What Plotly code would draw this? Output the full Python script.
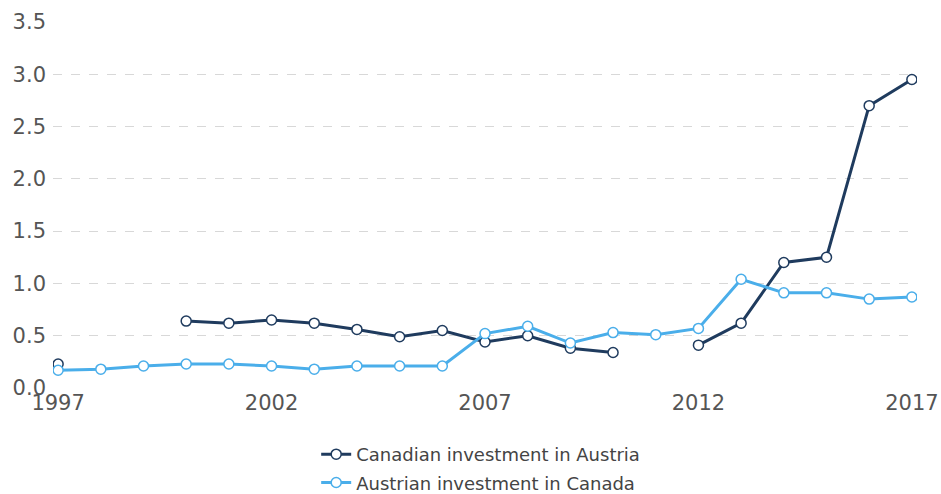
import plotly.graph_objects as go

years = list(range(1997, 2018))
canadian_in_austria = [0.23, None, None, 0.64, 0.62, 0.65, 0.62, 0.56, 0.49, 0.55,
                       0.44, 0.50, 0.38, 0.34, None, 0.41, 0.62, 1.20, 1.25, 2.70, 2.95]
austrian_in_canada = [0.17, 0.18, 0.21, 0.23, 0.23, 0.21, 0.18, 0.21, 0.21, 0.21,
                      0.52, 0.59, 0.43, 0.53, 0.51, 0.57, 1.04, 0.91, 0.91, 0.85, 0.87]
x_ticks = [1997, 2002, 2007, 2012, 2017]
y_ticks = [0, 0.5, 1.0, 1.5, 2.0, 2.5, 3.0, 3.5]

dark = "#1f3b5e"
light = "#4aaeea"

fig = go.Figure()
fig.add_trace(go.Scatter(
    x=years, y=canadian_in_austria, name="Canadian investment in Austria",
    mode="lines+markers", connectgaps=False, legendgroup="a",
    line=dict(color=dark, width=3),
    marker=dict(size=10, color="white", line=dict(color=dark, width=1.5)),
))
fig.add_trace(go.Scatter(
    x=years, y=austrian_in_canada, name="Austrian investment in Canada",
    mode="lines+markers", connectgaps=False, legendgroup="b",
    line=dict(color=light, width=3),
    marker=dict(size=10, color="white", line=dict(color=light, width=1.5)),
))

fig.update_layout(
    width=941, height=494,
    margin=dict(l=53, r=24, t=22, b=106, autoexpand=False),
    plot_bgcolor="white", paper_bgcolor="white",
    font=dict(family="DejaVu Sans, Verdana, sans-serif", color="#555555", size=21),
    showlegend=True,
    legend=dict(orientation="v", x=0.495, xanchor="center", y=-0.131, yanchor="top",
                font=dict(size=18, color="#444444"), itemwidth=30, tracegroupgap=2),
    xaxis=dict(range=[1996.88, 2017.12], tickvals=x_ticks, ticktext=[str(v) for v in x_ticks],
               showgrid=False, zeroline=False, showline=False, ticks="",
               tickfont=dict(size=21, color="#555555")),
    yaxis=dict(range=[0, 3.5], tickvals=y_ticks, ticktext=[f"{v:.1f}" for v in y_ticks],
               showgrid=True, gridcolor="#d8d8d8", griddash="dash", gridwidth=1,
               zeroline=False, showline=False, ticks="", ticklabelstandoff=6,
               tickfont=dict(size=21, color="#555555")),
)

fig.write_html("out.html", config={"displayModeBar": False},
               post_script="document.body.style.margin='0px';document.body.style.overflow='hidden';")
